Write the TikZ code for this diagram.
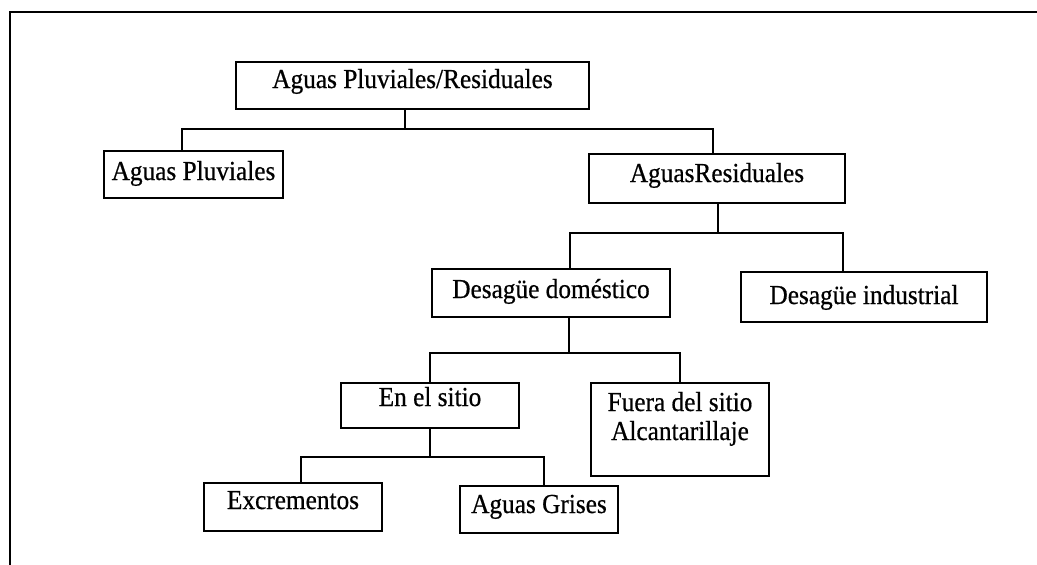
\documentclass[tikz,border=0pt]{standalone}
\usepackage{fontspec}
\setmainfont{Liberation Serif}[FakeStretch=0.92,FakeBold=0.6]
\begin{document}
\begin{tikzpicture}[x=1pt,y=-1pt,
  box/.style={draw, line width=1.5pt, inner sep=0pt, anchor=base,
    font=\fontsize{27.5}{29}\selectfont},
  link/.style={line width=1.5pt},
  frame/.style={line width=2.2pt}]
\useasboundingbox (0,0) rectangle (1037,565);
% frame
\coordinate (fbl) at (10,566);
\coordinate (ftl) at (10,12);
\coordinate (ftr) at (1038,12);
\draw[frame] (fbl) -- (ftl) -- (ftr);
% boxes
\node[box, minimum width=353, text height=26, text depth=21] (root) at (412.5,88) {Aguas Pluviales/Residuales};
\node[box, minimum width=179, text height=29, text depth=18] (pluv) at (193.5,180) {Aguas Pluviales};
\node[box, minimum width=256, text height=28, text depth=21] (resid) at (717,182) {AguasResiduales};
\node[box, minimum width=238, text height=29, text depth=19] (dom) at (551,298) {Desagüe doméstico};
\node[box, minimum width=246, text height=32, text depth=18] (ind) at (864,304) {Desagüe industrial};
\node[box, minimum width=178, text height=23, text depth=22] (ensitio) at (430,406) {En el sitio};
\node[box, minimum width=178, text height=28, text depth=65] (fuera) at (680,411)
  {\begin{tabular}[t]{@{}c@{}}Fuera del sitio\\Alcantarillaje\end{tabular}};
\node[box, minimum width=178, text height=26, text depth=22] (excr) at (293,509) {Excrementos};
\node[box, minimum width=158, text height=27, text depth=20] (grises) at (539,513) {Aguas Grises};
% connectors
\draw[link] ([xshift=-7.5pt]root.south) -- ++(0,19) coordinate (j1);
\draw[link] ([xshift=-11.5pt]pluv.north) |- (j1) -| ([xshift=-4pt]resid.north);
\draw[link] ([xshift=1pt]resid.south) -- ++(0,29) coordinate (j2);
\draw[link] ([xshift=19pt]dom.north) |- (j2) -| ([xshift=-21pt]ind.north);
\draw[link] ([xshift=18pt]dom.south) -- ++(0,35) coordinate (j3);
\draw[link] (ensitio.north) |- (j3) -| (fuera.north);
\draw[link] (ensitio.south) -- ++(0,28) coordinate (j4);
\draw[link] ([xshift=8pt]excr.north) |- (j4) -| ([xshift=5pt]grises.north);
\end{tikzpicture}
\end{document}
